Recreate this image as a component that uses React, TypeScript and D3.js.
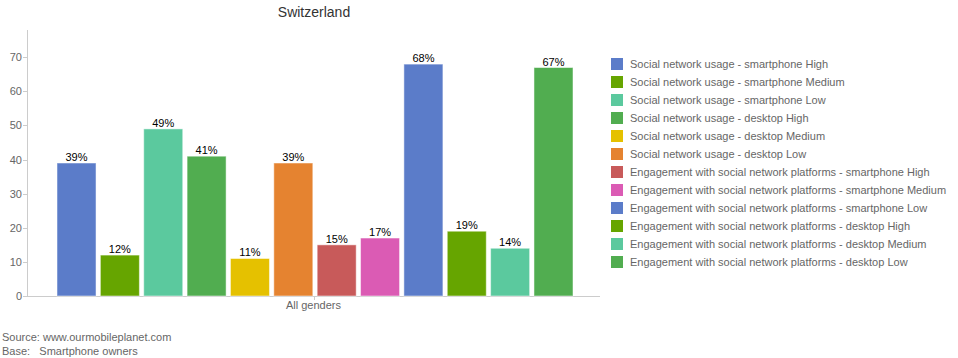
import React from "react";
import * as d3 from "d3";

const title = "Switzerland";
const category = "All genders";
const seriesNames = [
  "Social network usage - smartphone High",
  "Social network usage - smartphone Medium",
  "Social network usage - smartphone Low",
  "Social network usage - desktop High",
  "Social network usage - desktop Medium",
  "Social network usage - desktop Low",
  "Engagement with social network platforms - smartphone High",
  "Engagement with social network platforms - smartphone Medium",
  "Engagement with social network platforms - smartphone Low",
  "Engagement with social network platforms - desktop High",
  "Engagement with social network platforms - desktop Medium",
  "Engagement with social network platforms - desktop Low",
];
const values = [39, 12, 49, 41, 11, 39, 15, 17, 68, 19, 14, 67];
const colors = [
  "#5b7cc9", "#66a500", "#5bc99e", "#51ad50", "#e5c100", "#e58330",
  "#c85a5a", "#db5bb4", "#5b7cc9", "#66a500", "#5bc99e", "#51ad50",
];
const yTicks = [0, 10, 20, 30, 40, 50, 60, 70];
const footnotes = ["Source: www.ourmobileplanet.com", "Base:   Smartphone owners"];

export default function App() {
  const W = 958, H = 358;
  const left = 27, right = 600, top = 30, bottom = 296;
  const y = d3.scaleLinear().domain([0, 78]).range([bottom, top]);
  const x0 = d3.scaleBand().domain([category]).range([left, right]);
  const inner = d3.scaleBand<number>()
    .domain(values.map((_, i) => i))
    .range([57, 573])
    .paddingInner(0.1);
  const cx = (x0(category) || 0) + x0.bandwidth() / 2;
  const font = "Helvetica, Arial, 'Liberation Sans', sans-serif";
  return (
    <svg width={W} height={H} style={{ position: "absolute", left: 0, top: 0, fontFamily: font }}>
      <text x={314} y={17} textAnchor="middle" fontSize={14} fill="#333">{title}</text>
      <line x1={left + 0.5} x2={left + 0.5} y1={top} y2={bottom} stroke="#ccc" />
      <line x1={left} x2={right} y1={bottom + 0.5} y2={bottom + 0.5} stroke="#ccc" />
      {yTicks.map((t) => (
        <g key={t}>
          <line x1={left - 4} x2={left} y1={Math.round(y(t)) + 0.5} y2={Math.round(y(t)) + 0.5} stroke="#ccc" />
          <text x={left - 5} y={y(t) + 4} textAnchor="end" fontSize={11} fill="#666">{t}</text>
        </g>
      ))}
      <line x1={Math.round(cx) + 0.5} x2={Math.round(cx) + 0.5} y1={bottom} y2={bottom + 4} stroke="#ccc" />
      <text x={cx} y={bottom + 13} textAnchor="middle" fontSize={11} fill="#666">{category}</text>
      {values.map((v, i) => {
        const bx = inner(i) || 0;
        const bw = inner.bandwidth();
        return (
          <g key={i}>
            <rect x={bx} y={y(v)} width={bw} height={bottom - y(v)} fill={colors[i]}
              stroke="#fff" strokeOpacity={0.5} strokeWidth={1} />
            <text x={bx + bw / 2} y={y(v) - 2} textAnchor="middle" fontSize={11} fill="#000">{v}%</text>
          </g>
        );
      })}
      {seriesNames.map((s, i) => (
        <g key={s} transform={`translate(611, ${58 + i * 18})`}>
          <rect x={0} y={0} width={12} height={12} fill={colors[i]} />
          <text x={19} y={10} fontSize={11} fill="#666">{s}</text>
        </g>
      ))}
      {footnotes.map((f, i) => (
        <text key={i} x={2} y={341 + i * 14} fontSize={11} fill="#666" style={{ whiteSpace: "pre" }}>{f}</text>
      ))}
    </svg>
  );
}
